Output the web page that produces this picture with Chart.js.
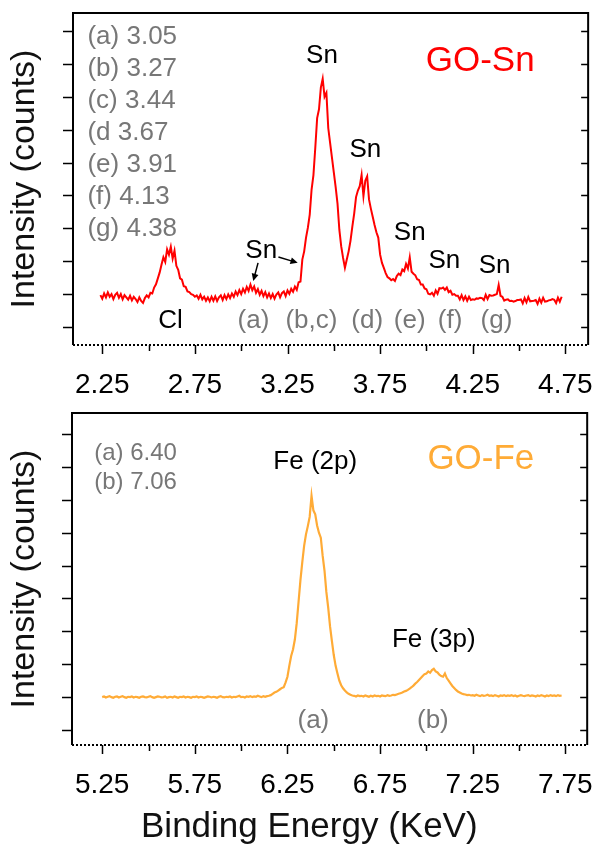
<!DOCTYPE html>
<html>
<head>
<meta charset="utf-8">
<script src="https://cdn.jsdelivr.net/npm/chart.js@4.4.0/dist/chart.umd.min.js"></script>
<style>
  html, body { margin: 0; padding: 0; background: #fff; }
  #wrap { position: relative; width: 616px; height: 851px; }
  .box { position: absolute; left: 0; width: 616px; }
  #boxSn { top: 0; height: 410px; }
  #boxFe { top: 410px; height: 441px; }
</style>
</head>
<body>
<div id="wrap">
  <div class="box" id="boxSn"><canvas id="snChart"></canvas></div>
  <div class="box" id="boxFe"><canvas id="feChart"></canvas></div>
</div>
<script>
// GO-Sn spectrum (keV, counts in tick units)
var snEnergy = [
  2.24, 2.25, 2.26, 2.27, 2.28, 2.29, 2.30, 2.31, 2.32, 2.33,
  2.34, 2.35, 2.36, 2.37, 2.38, 2.39, 2.40, 2.41, 2.42, 2.43,
  2.44, 2.45, 2.46, 2.47, 2.48, 2.49, 2.50, 2.51, 2.52, 2.53,
  2.54, 2.55, 2.56, 2.57, 2.58, 2.59, 2.60, 2.61, 2.62, 2.63,
  2.64, 2.65, 2.66, 2.67, 2.68, 2.69, 2.70, 2.71, 2.72, 2.73,
  2.74, 2.75, 2.76, 2.77, 2.78, 2.79, 2.80, 2.81, 2.82, 2.83,
  2.84, 2.85, 2.86, 2.87, 2.88, 2.89, 2.90, 2.91, 2.92, 2.93,
  2.94, 2.95, 2.96, 2.97, 2.98, 2.99, 3.00, 3.01, 3.02, 3.03,
  3.04, 3.05, 3.06, 3.07, 3.08, 3.09, 3.10, 3.11, 3.12, 3.13,
  3.14, 3.15, 3.16, 3.17, 3.18, 3.19, 3.20, 3.21, 3.22, 3.23,
  3.24, 3.25, 3.26, 3.27, 3.28, 3.29, 3.30, 3.31, 3.32, 3.33,
  3.34, 3.35, 3.36, 3.37, 3.38, 3.39, 3.40, 3.41, 3.42, 3.43,
  3.44, 3.45, 3.46, 3.47, 3.48, 3.49, 3.50, 3.51, 3.52, 3.53,
  3.54, 3.55, 3.56, 3.57, 3.58, 3.59, 3.60, 3.61, 3.62, 3.63,
  3.64, 3.65, 3.66, 3.67, 3.68, 3.69, 3.70, 3.71, 3.72, 3.73,
  3.74, 3.75, 3.76, 3.77, 3.78, 3.79, 3.80, 3.81, 3.82, 3.83,
  3.84, 3.85, 3.86, 3.87, 3.88, 3.89, 3.90, 3.91, 3.92, 3.93,
  3.94, 3.95, 3.96, 3.97, 3.98, 3.99, 4.00, 4.01, 4.02, 4.03,
  4.04, 4.05, 4.06, 4.07, 4.08, 4.09, 4.10, 4.11, 4.12, 4.13,
  4.14, 4.15, 4.16, 4.17, 4.18, 4.19, 4.20, 4.21, 4.22, 4.23,
  4.24, 4.25, 4.26, 4.27, 4.28, 4.29, 4.30, 4.31, 4.32, 4.33,
  4.34, 4.35, 4.36, 4.37, 4.38, 4.39, 4.40, 4.41, 4.42, 4.43,
  4.44, 4.45, 4.46, 4.47, 4.48, 4.49, 4.50, 4.51, 4.52, 4.53,
  4.54, 4.55, 4.56, 4.57, 4.58, 4.59, 4.60, 4.61, 4.62, 4.63,
  4.64, 4.65, 4.66, 4.67, 4.68, 4.69, 4.70, 4.71, 4.72, 4.73
];
var snCounts = [
  0.97, 0.86, 1.02, 0.90, 1.05, 0.92, 1.00, 0.85, 0.98, 1.04,
  0.89, 1.00, 0.84, 0.97, 0.90, 0.83, 0.95, 0.81, 0.92, 0.85,
  0.76, 0.90, 0.79, 0.73, 0.88, 0.96, 0.90, 1.04, 1.02, 1.20,
  1.30, 1.48, 1.66, 1.90, 2.12, 1.98, 2.36, 2.20, 2.44, 2.08,
  2.32, 1.86, 1.74, 1.48, 1.44, 1.24, 1.22, 1.08, 1.06, 1.00,
  0.98, 0.92, 0.96, 0.86, 0.98, 0.84, 0.92, 0.80, 0.90, 0.78,
  0.92, 0.80, 0.93, 0.79, 0.90, 0.96, 0.82, 0.97, 0.85, 0.99,
  0.88, 1.02, 0.92, 1.08, 0.97, 1.12, 1.00, 1.16, 1.05, 1.22,
  1.10, 1.29, 1.12, 1.23, 1.04, 1.15, 0.98, 1.10, 0.94, 1.06,
  0.90, 1.02, 0.88, 1.00, 0.86, 0.99, 1.05, 0.90, 1.03, 1.08,
  0.94, 1.11, 1.01, 1.16, 1.07, 1.23, 1.13, 1.36, 1.38, 2.05,
  2.30, 2.72, 3.02, 3.42, 4.18, 4.62, 5.45, 6.35, 6.62, 7.28,
  7.55, 7.00, 7.12, 6.05, 5.60, 5.15, 4.70, 4.25, 3.75, 2.95,
  2.45, 2.10, 1.80, 2.05, 2.30, 2.62, 3.05, 3.45, 3.95, 4.15,
  4.28, 4.62, 3.98, 4.45, 4.58, 3.88, 3.60, 3.35, 3.10, 2.88,
  2.72, 2.20, 1.95, 1.80, 1.64, 1.52, 1.48, 1.42, 1.46, 1.40,
  1.55, 1.62, 1.58, 1.75, 1.70, 1.92, 1.78, 2.12, 1.68, 1.62,
  1.57, 1.45, 1.43, 1.29, 1.29, 1.17, 1.15, 1.01, 0.99, 1.04,
  0.95, 1.11, 1.01, 1.18, 1.17, 1.20, 1.13, 1.20, 1.06, 1.10,
  0.98, 1.00, 0.95, 0.95, 0.84, 0.97, 0.82, 0.93, 0.80, 0.92,
  0.82, 0.84, 0.83, 0.87, 0.86, 0.89, 0.88, 0.82, 0.98, 0.85,
  0.97, 0.95, 0.96, 0.98, 1.00, 1.28, 0.95, 0.92, 0.80, 0.83,
  0.84, 0.79, 0.80, 0.77, 0.79, 0.82, 0.82, 0.84, 0.72, 0.88,
  0.75, 0.91, 0.78, 0.79, 0.80, 0.82, 0.70, 0.86, 0.74, 0.89,
  0.77, 0.78, 0.81, 0.82, 0.85, 0.83, 0.73, 0.89, 0.77, 0.92
];

// GO-Fe spectrum
var feEnergy = [
  5.25, 5.26, 5.27, 5.28, 5.29, 5.30, 5.31, 5.32, 5.33, 5.34,
  5.35, 5.36, 5.37, 5.38, 5.39, 5.40, 5.41, 5.42, 5.43, 5.44,
  5.45, 5.46, 5.47, 5.48, 5.49, 5.50, 5.51, 5.52, 5.53, 5.54,
  5.55, 5.56, 5.57, 5.58, 5.59, 5.60, 5.61, 5.62, 5.63, 5.64,
  5.65, 5.66, 5.67, 5.68, 5.69, 5.70, 5.71, 5.72, 5.73, 5.74,
  5.75, 5.76, 5.77, 5.78, 5.79, 5.80, 5.81, 5.82, 5.83, 5.84,
  5.85, 5.86, 5.87, 5.88, 5.89, 5.90, 5.91, 5.92, 5.93, 5.94,
  5.95, 5.96, 5.97, 5.98, 5.99, 6.00, 6.01, 6.02, 6.03, 6.04,
  6.05, 6.06, 6.07, 6.08, 6.09, 6.10, 6.11, 6.12, 6.13, 6.14,
  6.15, 6.16, 6.17, 6.18, 6.19, 6.20, 6.21, 6.22, 6.23, 6.24,
  6.25, 6.26, 6.27, 6.28, 6.29, 6.30, 6.31, 6.32, 6.33, 6.34,
  6.35, 6.36, 6.37, 6.38, 6.39, 6.40, 6.41, 6.42, 6.43, 6.44,
  6.45, 6.46, 6.47, 6.48, 6.49, 6.50, 6.51, 6.52, 6.53, 6.54,
  6.55, 6.56, 6.57, 6.58, 6.59, 6.60, 6.61, 6.62, 6.63, 6.64,
  6.65, 6.66, 6.67, 6.68, 6.69, 6.70, 6.71, 6.72, 6.73, 6.74,
  6.75, 6.76, 6.77, 6.78, 6.79, 6.80, 6.81, 6.82, 6.83, 6.84,
  6.85, 6.86, 6.87, 6.88, 6.89, 6.90, 6.91, 6.92, 6.93, 6.94,
  6.95, 6.96, 6.97, 6.98, 6.99, 7.00, 7.01, 7.02, 7.03, 7.04,
  7.05, 7.06, 7.07, 7.08, 7.09, 7.10, 7.11, 7.12, 7.13, 7.14,
  7.15, 7.16, 7.17, 7.18, 7.19, 7.20, 7.21, 7.22, 7.23, 7.24,
  7.25, 7.26, 7.27, 7.28, 7.29, 7.30, 7.31, 7.32, 7.33, 7.34,
  7.35, 7.36, 7.37, 7.38, 7.39, 7.40, 7.41, 7.42, 7.43, 7.44,
  7.45, 7.46, 7.47, 7.48, 7.49, 7.50, 7.51, 7.52, 7.53, 7.54,
  7.55, 7.56, 7.57, 7.58, 7.59, 7.60, 7.61, 7.62, 7.63, 7.64,
  7.65, 7.66, 7.67, 7.68, 7.69, 7.70, 7.71, 7.72, 7.73
];
var feCounts = [
  1.00, 1.02, 0.99, 1.01, 1.03, 1.00, 0.98, 1.01, 1.02, 0.99,
  1.01, 1.03, 1.00, 0.98, 1.01, 1.00, 1.02, 0.99, 1.01, 1.00,
  0.98, 1.01, 1.02, 1.00, 0.99, 1.01, 1.03, 1.00, 0.98, 1.00,
  1.02, 1.01, 0.99, 1.00, 1.02, 0.98, 1.00, 1.01, 0.99, 1.02,
  1.00, 0.98, 1.01, 1.00, 1.02, 0.99, 1.01, 1.00, 0.98, 1.01,
  1.00, 1.02, 0.99, 1.01, 1.00, 0.98, 1.00, 1.02, 1.01, 0.99,
  1.01, 1.00, 0.98, 1.01, 1.03, 1.00, 0.99, 1.01, 1.00, 1.02,
  0.99, 1.01, 1.00, 1.02, 1.04, 1.00, 1.01, 0.99, 1.02, 1.01,
  1.03, 1.00, 1.02, 1.01, 1.04, 1.02, 1.00, 1.03, 1.01, 1.03,
  1.04, 1.06, 1.10, 1.14, 1.16, 1.20, 1.24, 1.28, 1.30, 1.45,
  1.62, 1.95, 2.25, 2.45, 2.75, 3.25, 3.90, 4.55, 5.10, 5.60,
  5.95, 6.20, 6.48, 7.12, 6.68, 6.56, 6.22, 6.00, 5.85, 5.30,
  4.85, 4.20, 3.72, 3.15, 2.70, 2.28, 1.95, 1.72, 1.50, 1.36,
  1.27, 1.20, 1.14, 1.10, 1.07, 1.05, 1.04, 1.02, 1.05, 1.03,
  1.04, 1.02, 1.05, 1.03, 1.01, 1.04, 1.02, 1.05, 1.03, 1.04,
  1.02, 1.05, 1.04, 1.03, 1.06, 1.04, 1.05, 1.07, 1.06, 1.08,
  1.10, 1.12, 1.14, 1.17, 1.19, 1.22, 1.26, 1.30, 1.35, 1.41,
  1.46, 1.52, 1.58, 1.64, 1.70, 1.72, 1.78, 1.74, 1.82, 1.86,
  1.78, 1.75, 1.68, 1.64, 1.62, 1.72, 1.58, 1.50, 1.42, 1.34,
  1.28, 1.22, 1.17, 1.14, 1.11, 1.09, 1.08, 1.06, 1.07, 1.05,
  1.06, 1.04, 1.07, 1.05, 1.03, 1.06, 1.04, 1.05, 1.07, 1.04,
  1.05, 1.03, 1.06, 1.04, 1.02, 1.05, 1.04, 1.06, 1.03, 1.05,
  1.04, 1.06, 1.03, 1.05, 1.02, 1.04, 1.06, 1.04, 1.03, 1.05,
  1.06, 1.03, 1.05, 1.04, 1.02, 1.05, 1.03, 1.06, 1.04, 1.02,
  1.05, 1.03, 1.06, 1.04, 1.05, 1.03, 1.06, 1.04, 1.05
];

var snTicks = [2.25, 2.5, 2.75, 3.0, 3.25, 3.5, 3.75, 4.0, 4.25, 4.5, 4.75];
var snTickLabels = ['2.25', '', '2.75', '', '3.25', '', '3.75', '', '4.25', '', '4.75'];
var feTicks = [5.25, 5.5, 5.75, 6.0, 6.25, 6.5, 6.75, 7.0, 7.25, 7.5, 7.75];
var feTickLabels = ['5.25', '', '5.75', '', '6.25', '', '6.75', '', '7.25', '', '7.75'];
var intensityTicks = [0, 1, 2, 3, 4, 5, 6, 7, 8, 9];

var RED = '#ff0000';
var ORANGE = '#ffab36';
var GREY = '#777777';
var FONT = '"Liberation Sans", Arial, sans-serif';

Chart.defaults.font.family = FONT;

// box, ticks (outer left / inner right / down on x), dotted x axis line
var framePlugin = {
  id: 'frame',
  afterDraw: function(chart, args, opts) {
    var ctx = chart.ctx, a = chart.chartArea;
    var x = chart.scales.x, y = chart.scales.y;
    ctx.save();
    ctx.strokeStyle = '#000';
    ctx.lineWidth = 2;
    ctx.beginPath();
    ctx.moveTo(a.left, a.bottom);
    ctx.lineTo(a.left, a.top);
    ctx.lineTo(a.right, a.top);
    ctx.lineTo(a.right, a.bottom);
    ctx.stroke();
    ctx.setLineDash([2, 2]);
    ctx.beginPath();
    ctx.moveTo(a.left, a.bottom);
    ctx.lineTo(a.right, a.bottom);
    ctx.stroke();
    ctx.setLineDash([]);
    ctx.lineWidth = 1.5;
    ctx.beginPath();
    opts.yTicks.forEach(function(v) {
      var py = Math.round(y.getPixelForValue(v)) + 0.5;
      ctx.moveTo(a.left - 10, py); ctx.lineTo(a.left, py);
      ctx.moveTo(a.right - 7, py); ctx.lineTo(a.right, py);
    });
    opts.xTicks.forEach(function(v, i) {
      var px = Math.round(x.getPixelForValue(v)) + 0.5;
      ctx.moveTo(px, a.bottom); ctx.lineTo(px, a.bottom + (i % 2 ? 6 : 9));
    });
    ctx.stroke();
    ctx.restore();
  }
};

// text labels and arrows, placed in data coordinates
var notesPlugin = {
  id: 'notes',
  afterDraw: function(chart, args, opts) {
    var ctx = chart.ctx, a = chart.chartArea;
    var x = chart.scales.x, y = chart.scales.y;
    ctx.save();
    ctx.textBaseline = 'middle';
    (opts.labels || []).forEach(function(n) {
      ctx.font = n.size + 'px ' + FONT;
      ctx.fillStyle = n.color || '#000';
      ctx.textAlign = n.align || 'center';
      var px = x.getPixelForValue(n.at[0]);
      var py = n.below !== undefined ? a.bottom + n.below : y.getPixelForValue(n.at[1]);
      ctx.fillText(n.text, px, py);
    });
    ctx.strokeStyle = '#000';
    ctx.fillStyle = '#000';
    ctx.lineWidth = 1.5;
    (opts.arrows || []).forEach(function(ar) {
      var x0 = x.getPixelForValue(ar.from[0]), y0 = y.getPixelForValue(ar.from[1]);
      var x1 = x.getPixelForValue(ar.to[0]), y1 = y.getPixelForValue(ar.to[1]);
      var ang = Math.atan2(y1 - y0, x1 - x0);
      ctx.beginPath();
      ctx.moveTo(x0, y0);
      ctx.lineTo(x1 - 5 * Math.cos(ang), y1 - 5 * Math.sin(ang));
      ctx.stroke();
      ctx.beginPath();
      ctx.moveTo(x1, y1);
      ctx.lineTo(x1 - 8 * Math.cos(ang - 0.45), y1 - 8 * Math.sin(ang - 0.45));
      ctx.lineTo(x1 - 8 * Math.cos(ang + 0.45), y1 - 8 * Math.sin(ang + 0.45));
      ctx.closePath();
      ctx.fill();
    });
    ctx.restore();
  }
};

function drawSpectrum(canvasId, energy, counts, color, lineWidth, xMin, xMax, yMin, yMax, ticks, tickLabels, pad, yWidth, xHeight, notes) {
  var ctx = document.getElementById(canvasId).getContext('2d');
  var points = energy.map(function(e, i) { return { x: e, y: counts[i] }; });
  return new Chart(ctx, {
    type: 'line',
    plugins: [framePlugin, notesPlugin],
    data: {
      datasets: [{
        data: points,
        borderColor: color,
        borderWidth: lineWidth,
        pointRadius: 0,
        tension: 0,
        fill: false
      }]
    },
    options: {
      responsive: true,
      maintainAspectRatio: false,
      animation: false,
      devicePixelRatio: 1,
      layout: { padding: pad },
      plugins: {
        legend: { display: false },
        tooltip: { enabled: false },
        frame: { xTicks: ticks, yTicks: intensityTicks },
        notes: notes
      },
      scales: {
        x: {
          type: 'linear',
          min: xMin,
          max: xMax,
          afterBuildTicks: function(s) { s.ticks = ticks.map(function(v) { return { value: v }; }); },
          afterFit: function(s) { s.height = xHeight; },
          grid: { display: false, drawTicks: false },
          border: { display: false },
          ticks: {
            autoSkip: false,
            maxRotation: 0,
            minRotation: 0,
            padding: 23,
            color: '#000',
            font: { size: 28 },
            callback: function(v, i) { return tickLabels[i]; }
          }
        },
        y: {
          type: 'linear',
          min: yMin,
          max: yMax,
          afterFit: function(s) { s.width = yWidth; },
          grid: { display: false, drawTicks: false },
          border: { display: false },
          ticks: { display: false },
          title: {
            display: true,
            text: 'Intensity (counts)',
            color: '#111',
            font: { size: 34 },
            padding: { top: 4, bottom: 0 }
          }
        }
      }
    }
  });
}

drawSpectrum('snChart', snEnergy, snCounts, RED, 2, 2.092, 4.873, -0.547, 9.547,
  snTicks, snTickLabels, { left: 0, top: 13, right: 9, bottom: 0 }, 73, 65, {
    labels: [
      { text: '(a) 3.05', at: [2.17, 8.81], size: 26, color: GREY, align: 'left' },
      { text: '(b) 3.27', at: [2.17, 7.84], size: 26, color: GREY, align: 'left' },
      { text: '(c) 3.44', at: [2.17, 6.87], size: 26, color: GREY, align: 'left' },
      { text: '(d 3.67', at: [2.17, 5.90], size: 26, color: GREY, align: 'left' },
      { text: '(e) 3.91', at: [2.17, 4.92], size: 26, color: GREY, align: 'left' },
      { text: '(f) 4.13', at: [2.17, 3.95], size: 26, color: GREY, align: 'left' },
      { text: '(g) 4.38', at: [2.17, 2.98], size: 26, color: GREY, align: 'left' },
      { text: 'GO-Sn', at: [4.29, 8.08], size: 35, color: RED },
      { text: 'Sn', at: [3.436, 8.24], size: 26 },
      { text: 'Sn', at: [3.67, 5.38], size: 26 },
      { text: 'Sn', at: [3.91, 2.86], size: 26 },
      { text: 'Sn', at: [4.097, 2.0], size: 26 },
      { text: 'Sn', at: [4.368, 1.85], size: 26 },
      { text: 'Sn', at: [3.108, 2.31], size: 26 },
      { text: 'Cl', at: [2.618, 0.18], size: 26 },
      { text: '(a)', at: [3.066, 0.18], size: 26, color: GREY },
      { text: '(b,c)', at: [3.379, 0.18], size: 26, color: GREY },
      { text: '(d)', at: [3.68, 0.18], size: 26, color: GREY },
      { text: '(e)', at: [3.91, 0.18], size: 26, color: GREY },
      { text: '(f)', at: [4.128, 0.18], size: 26, color: GREY },
      { text: '(g)', at: [4.378, 0.18], size: 26, color: GREY }
    ],
    arrows: [
      { from: [3.091, 1.95], to: [3.065, 1.40] },
      { from: [3.201, 2.13], to: [3.305, 1.95] }
    ]
  });

drawSpectrum('feChart', feEnergy, feCounts, ORANGE, 2.2, 5.087, 7.868, -0.456, 9.64,
  feTicks, feTickLabels, { left: 0, top: 3, right: 10, bottom: 0 }, 72, 106, {
    labels: [
      { text: '(a) 6.40', at: [5.207, 8.42], size: 24, color: GREY, align: 'left' },
      { text: '(b) 7.06', at: [5.207, 7.54], size: 24, color: GREY, align: 'left' },
      { text: 'GO-Fe', at: [7.294, 8.24], size: 35, color: ORANGE },
      { text: 'Fe (2p)', at: [6.40, 8.15], size: 26 },
      { text: 'Fe (3p)', at: [7.04, 2.74], size: 26 },
      { text: '(a)', at: [6.39, 0.27], size: 26, color: GREY },
      { text: '(b)', at: [7.035, 0.27], size: 26, color: GREY },
      { text: 'Binding Energy (KeV)', at: [6.368], below: 82, size: 35, color: '#111' }
    ]
  });
</script>
</body>
</html>
